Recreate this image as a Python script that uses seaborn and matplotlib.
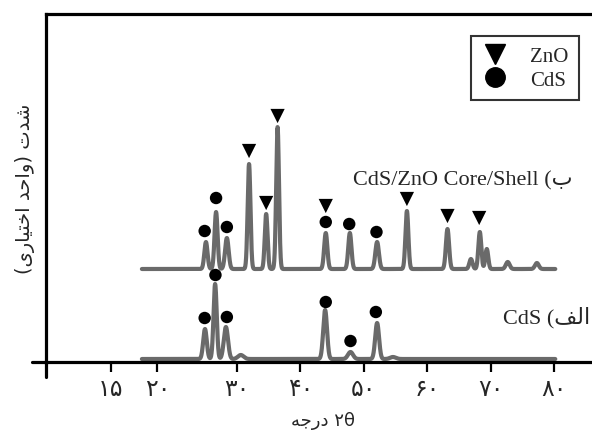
import numpy as np
import pandas as pd
import matplotlib
matplotlib.use("Agg")
import matplotlib.pyplot as plt
from matplotlib.lines import Line2D
import seaborn as sns

# ---------------- data ----------------
two_theta_start = 15.0
two_theta_end = 80.2

# CdS/ZnO core/shell pattern (upper trace)
cs_baseline = 93
cs_peak_pos = [25.1, 26.7, 28.4, 31.9, 34.6, 36.4, 44.0, 47.8, 52.1, 56.8, 63.2, 66.9, 68.3, 69.4, 72.7, 77.3]
cs_peak_height = [27, 57, 31, 105, 55, 142, 36, 36, 27, 58, 40, 10, 37, 20, 7, 6]
cs_peak_width = [0.25, 0.24, 0.28, 0.22, 0.22, 0.22, 0.25, 0.25, 0.28, 0.23, 0.25, 0.25, 0.23, 0.23, 0.3, 0.3]

# CdS pattern (lower trace)
cds_baseline = 3
cds_peak_pos = [24.95, 26.55, 28.25, 30.6, 43.9, 47.9, 52.1, 54.6]
cds_peak_height = [30, 75, 32, 4, 49, 7, 36, 2]
cds_peak_width = [0.28, 0.25, 0.33, 0.45, 0.3, 0.4, 0.3, 0.45]

# phase markers
cs_cds_mark_x = [24.9, 26.7, 28.4, 44.0, 47.7, 52.0]
cs_cds_mark_y = [131, 164, 135, 140, 138, 130]
cs_zno_mark_x = [31.9, 34.6, 36.4, 44.0, 56.8, 63.2, 68.2]
cs_zno_mark_y = [211, 159, 246, 156, 163, 146, 144]
cds_mark_x = [24.9, 26.6, 28.4, 44.0, 47.9, 51.9]
cds_mark_y = [44, 87, 45, 60, 21, 50]

tick_pos = [10.06, 17.44, 30, 40, 50, 60, 70, 80]
tick_labels = ["۱۵", "۲۰", "۳۰", "۴۰", "۵۰", "۶۰", "۷۰", "۸۰"]

# Persian text in visual (shaped) order
xlabel_txt = "\uFEEA\uFE9F\uFEAD\uFEA9 ۲θ"                     # ۲θ درجه
ylabel_txt = "(\uFEEF\uFEAD\uFE8E\uFEF4\uFE98\uFEA7\uFE8D \uFEAA\uFEA3\uFE8D\uFEED) \uFE95\uFEAA\uFEB7"  # شدت (واحد اختیاری)
label_cs = "CdS/ZnO Core/Shell (\uFE8F"                          # ب) CdS/ZnO Core/Shell
label_cds = "CdS (\uFED2\uFEDF\uFE8D"                            # الف) CdS

# ---------------- build traces ----------------
x = np.linspace(two_theta_start, two_theta_end, 3000)

def trace(base, pos, h, w):
    y = np.full_like(x, float(base))
    for p, hh, ww in zip(pos, h, w):
        y += hh * np.exp(-0.5 * ((x - p) / ww) ** 2)
    return y

df = pd.concat([
    pd.DataFrame({"2theta": x, "I": trace(cs_baseline, cs_peak_pos, cs_peak_height, cs_peak_width), "s": "cs"}),
    pd.DataFrame({"2theta": x, "I": trace(cds_baseline, cds_peak_pos, cds_peak_height, cds_peak_width), "s": "cds"}),
])

sns.set_style("white")
plt.rcParams["font.family"] = ["DejaVu Sans"]

fig = plt.figure(figsize=(5.92, 4.39), dpi=100)
L, R, T, B = 46, 600, 15, 363
W, H = 592, 439
ax = fig.add_axes([L / W, (H - B) / H, (R - L) / W, (B - T) / H])

sns.lineplot(data=df, x="2theta", y="I", units="s", estimator=None, color="#6a6a6a",
             lw=3.0, ax=ax, legend=False)

circ = dict(marker="o", s=80, color="black", edgecolor="none", zorder=5, legend=False)
tri = dict(marker="v", s=105, color="black", edgecolor="none", zorder=5, legend=False)
sns.scatterplot(x=cs_cds_mark_x, y=cs_cds_mark_y, ax=ax, **circ)
sns.scatterplot(x=cds_mark_x, y=cds_mark_y, ax=ax, **circ)
sns.scatterplot(x=cs_zno_mark_x, y=cs_zno_mark_y, ax=ax, **tri)

px2x = lambda px: 30 + (px - 237) / 6.34
ax.set_xlim(px2x(L), px2x(R))
ax.set_ylim(0, B - T)

for s in ["left", "bottom", "top"]:
    ax.spines[s].set_linewidth(2.3)
    ax.spines[s].set_color("black")
ax.spines["right"].set_visible(False)

# spine extensions (cross at origin)
ax.plot([-14 / (R - L), 0], [0, 0], transform=ax.transAxes, color="black", lw=2.3, clip_on=False)
ax.plot([0, 0], [-15 / (B - T), 0], transform=ax.transAxes, color="black", lw=2.3, clip_on=False)

ax.set_xticks(tick_pos)
ax.set_xticklabels(tick_labels, fontsize=17)
ax.set_yticks([])
ax.tick_params(axis="x", direction="out", length=7, width=1.6, color="black", pad=3, bottom=True)

ax.set_xlabel(xlabel_txt, fontsize=13, labelpad=8)
ax.set_ylabel(ylabel_txt, fontsize=14, labelpad=8)

serif = ["Liberation Serif", "DejaVu Sans"]
fig.text(573 / W, 1 - 181 / H, label_cs, ha="right", va="center", fontsize=16, family=serif)
fig.text(590 / W, 1 - 318 / H, label_cds, ha="right", va="center", fontsize=16, family=serif)

handles = [Line2D([], [], marker="v", color="black", ls="none", markersize=14),
           Line2D([], [], marker="o", color="black", ls="none", markersize=14)]
leg = ax.legend(handles, ["ZnO", "CdS"], loc="center", bbox_to_anchor=(525 / W, 1 - 69 / H),
                bbox_transform=fig.transFigure, frameon=True, fancybox=False,
                prop={"family": "Liberation Serif", "size": 15}, handletextpad=1.0,
                borderpad=0.5, labelspacing=0.2, handlelength=1.3, borderaxespad=0)
leg.get_frame().set_edgecolor("black")
leg.get_frame().set_linewidth(1.5)

fig.savefig("out.png", dpi=100)
